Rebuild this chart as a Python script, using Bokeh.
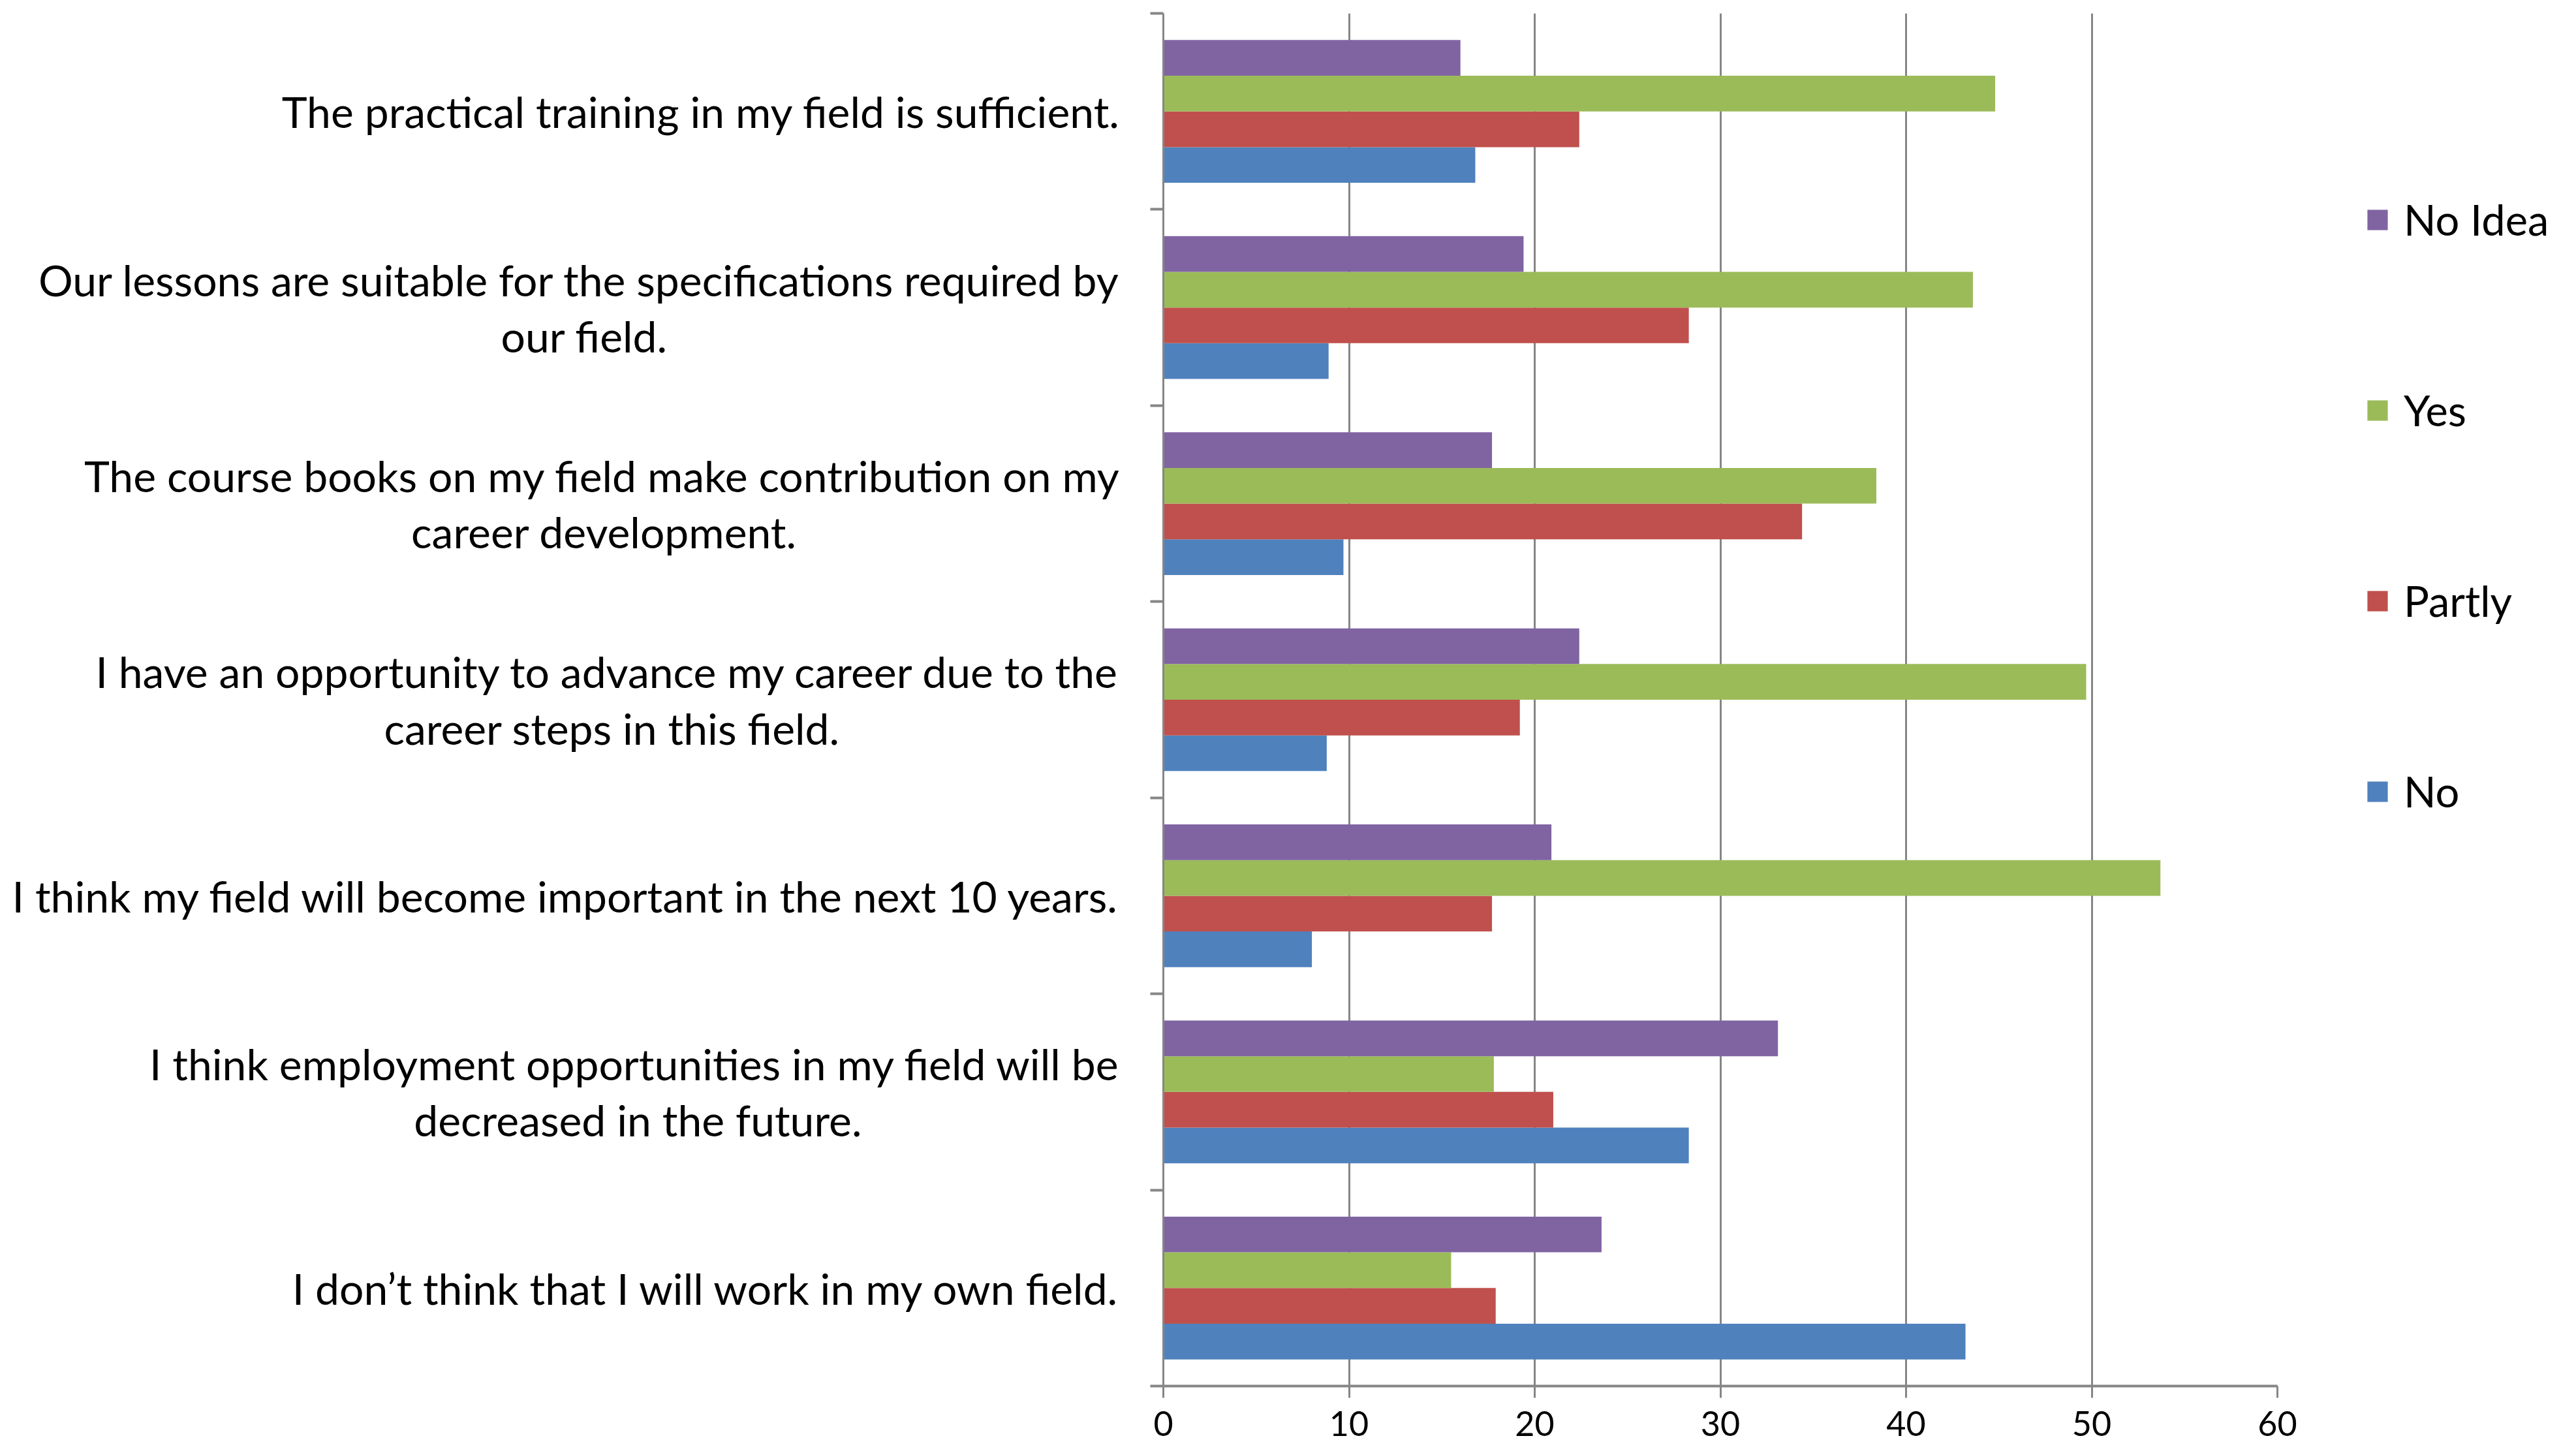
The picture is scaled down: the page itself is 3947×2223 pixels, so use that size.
from bokeh.plotting import figure
from bokeh.models import (Range1d, FixedTicker, LinearAxis, Legend, LegendItem,
                          ColumnDataSource)
from bokeh.transform import dodge
from bokeh.embed import file_html
from bokeh.resources import INLINE

# ---- data (bottom category first, as drawn by the chart) ----
categories = [
    "I don\u2019t think that I will work in my own field.",
    "I think employment opportunities in my field will be\ndecreased in the future.",
    "I think my field will become important in the next 10 years.",
    "I have an opportunity to advance my career due to the\ncareer steps in this field.",
    "The course books on my field make contribution on my\ncareer development.",
    "Our lessons are suitable for the specifications required by\nour field.",
    "The practical training in my field is sufficient.",
]
series_names = ["No", "Partly", "Yes", "No Idea"]
no_vals = [43.2, 28.3, 8.0, 8.8, 9.7, 8.9, 16.8]
partly_vals = [17.9, 21.0, 17.7, 19.2, 34.4, 28.3, 22.4]
yes_vals = [15.5, 17.8, 53.7, 49.7, 38.4, 43.6, 44.8]
no_idea_vals = [23.6, 33.1, 20.9, 22.4, 17.7, 19.4, 16.0]
x_ticks = [0, 10, 20, 30, 40, 50, 60]

colors = {"No": "#4F81BD", "Partly": "#C0504D", "Yes": "#9BBB59", "No Idea": "#8064A2"}
values = {"No": no_vals, "Partly": partly_vals, "Yes": yes_vals, "No Idea": no_idea_vals}

FONT = "Lato"
GRID = "#868686"

# layout tweak: trailing em/en-space padding so that a wrapped second
# line sits centred under the first line of a right-aligned label
line2_pad = {1: 8.0, 3: 8.5, 4: 10.0, 5: 14.0}


def padded(i, text):
    if "\n" not in text or i not in line2_pad:
        return text
    pad = line2_pad[i]
    full = int(pad)
    half = (pad - full) >= 0.5
    return text + "\u2003" * full + ("\u2002" if half else "")


n = len(categories)
centers = [i + 0.5 for i in range(n)]
src = ColumnDataSource(dict(y=centers, **{k: v for k, v in values.items()}))

p = figure(
    frame_width=1707, frame_height=2103,
    min_border_left=1782, min_border_top=20, min_border_right=440, min_border_bottom=90,
    x_range=Range1d(0, 60), y_range=Range1d(0, n),
    output_backend="svg", toolbar_location=None,
    y_axis_location=None, x_axis_location="below",
    outline_line_color=None, background_fill_color="white",
)

w = 0.182
offsets = [-1.5 * w, -0.5 * w, 0.5 * w, 1.5 * w]
renderers = {}
for name, off in zip(series_names, offsets):
    renderers[name] = p.hbar(y=dodge("y", off, range=p.y_range), left=0, right=name,
                             height=w, source=src, fill_color=colors[name],
                             line_color=None)

# x axis
p.xaxis.ticker = FixedTicker(ticks=x_ticks)
p.xaxis.axis_line_color = GRID
p.xaxis.axis_line_width = 4
p.xaxis.major_tick_line_color = GRID
p.xaxis.major_tick_line_width = 3
p.xaxis.major_tick_out = 18
p.xaxis.major_tick_in = 0
p.xaxis.minor_tick_line_color = None
p.xaxis.major_label_text_font = FONT
p.xaxis.major_label_text_font_size = "52px"
p.xaxis.major_label_text_color = "black"
p.xaxis.major_label_standoff = 20

p.xgrid.ticker = FixedTicker(ticks=x_ticks)
p.xgrid.grid_line_color = GRID
p.xgrid.grid_line_width = 3
p.ygrid.grid_line_color = None

# inner left axis: boundary ticks between categories
tick_axis = LinearAxis(ticker=FixedTicker(ticks=list(range(n + 1))),
                       major_label_overrides={i: "" for i in range(n + 1)},
                       major_label_standoff=0,
                       axis_line_color=GRID, axis_line_width=3,
                       major_tick_line_color=GRID, major_tick_line_width=4,
                       major_tick_out=20, major_tick_in=0,
                       minor_tick_line_color=None)
p.add_layout(tick_axis, "left")

# outer left axis: category labels
label_axis = LinearAxis(ticker=FixedTicker(ticks=centers),
                        major_label_overrides={c: padded(i, t) for i, (c, t)
                                               in enumerate(zip(centers, categories))},
                        major_label_standoff=46,
                        axis_line_color=None,
                        major_tick_line_color=None, major_tick_out=0, major_tick_in=0,
                        minor_tick_line_color=None,
                        major_label_text_font=FONT,
                        major_label_text_font_size="66px",
                        major_label_text_line_height=1.09,
                        major_label_text_color="black")
p.add_layout(label_axis, "left")

legend = Legend(
    items=[LegendItem(label=name, renderers=[renderers[name]])
           for name in ["No Idea", "Yes", "Partly", "No"]],
    location=(134, 872), orientation="vertical",
    glyph_width=39, glyph_height=39, label_standoff=21,
    label_text_font=FONT, label_text_font_size="65px", label_text_color="black",
    spacing=214, padding=0, margin=0,
    border_line_color=None, background_fill_alpha=0,
)
p.add_layout(legend, "right")

open("out.html", "w").write(file_html(p, INLINE))
